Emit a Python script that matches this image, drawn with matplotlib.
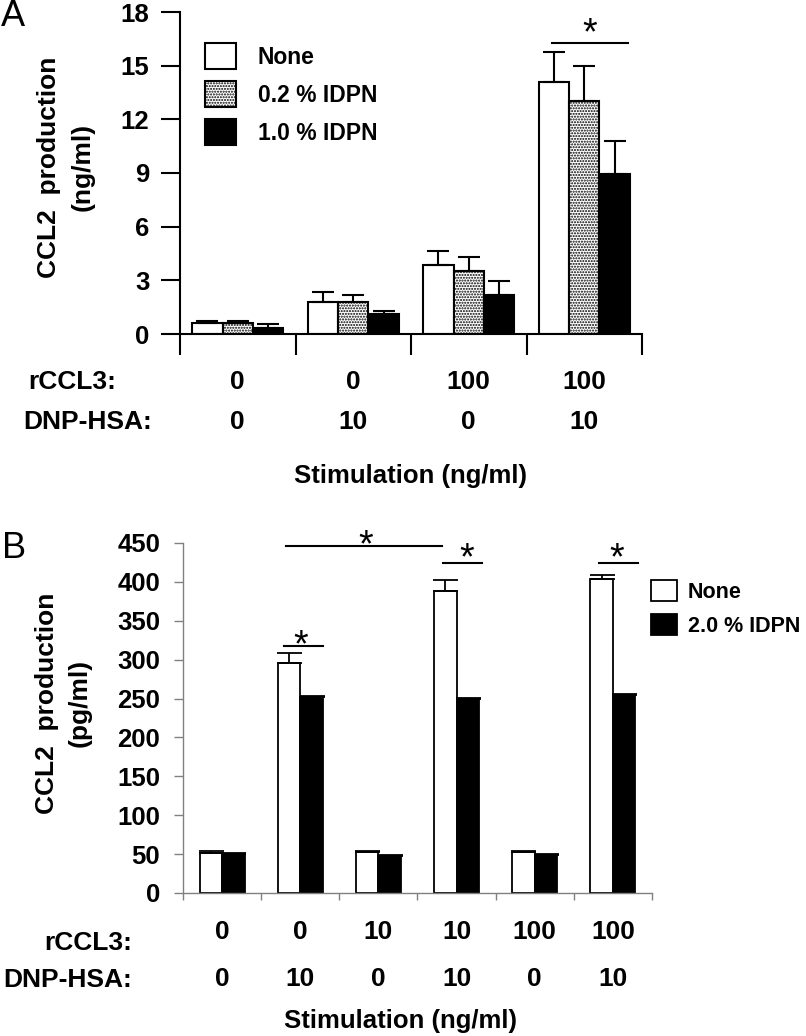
import matplotlib
matplotlib.use('Agg')
import matplotlib.pyplot as plt
from matplotlib.transforms import blended_transform_factory
import numpy as np

plt.rcParams['font.family'] = ['Liberation Sans', 'DejaVu Sans']
plt.rcParams['font.weight'] = 'bold'
plt.rcParams['hatch.linewidth'] = 1.0

# ---------------- Panel A data ----------------
a_rccl3 = ['0', '0', '100', '100']
a_dnp = ['0', '10', '0', '10']
a_labels = ['None', '0.2 % IDPN', '1.0 % IDPN']
a_none = [0.6, 1.8, 3.86, 14.1]
a_none_err = [0.15, 0.55, 0.8, 1.65]
a_low = [0.6, 1.8, 3.5, 13.0]
a_low_err = [0.15, 0.4, 0.8, 2.0]
a_high = [0.35, 1.1, 2.2, 8.95]
a_high_err = [0.2, 0.2, 0.75, 1.85]
a_yticks = [0, 3, 6, 9, 12, 15, 18]
a_sig_x = [2.72, 3.38]
a_sig_y = 16.27
a_star = (3.05, 16.77)

# ---------------- Panel B data ----------------
b_rccl3 = ['0', '0', '10', '10', '100', '100']
b_dnp = ['0', '10', '0', '10', '0', '10']
b_labels = ['None', '2.0 % IDPN']
b_none = [52, 296, 53, 388, 53, 404]
b_none_err = [1.5, 13, 1.5, 15, 1.5, 5]
b_idpn = [50, 252, 48, 249, 49, 254]
b_idpn_err = [1.0, 1.5, 1.0, 1.5, 1.0, 1.5]
b_yticks = [0, 50, 100, 150, 200, 250, 300, 350, 400, 450]
b_sig_lines = [([0.818, 2.813], 446), ([0.79, 1.29], 317.5), ([2.83, 3.32], 424), ([4.82, 5.32], 424)]
b_sig_stars = [(1.84, 446), (1.01, 317), (3.13, 429.4), (5.05, 429.4)]

W, H = 806, 1036
def fx(px):
    return px / W
def fy(py):
    return 1 - py / H

fig = plt.figure(figsize=(W / 100, H / 100), dpi=100)

# ======================= Panel A =======================
axA = fig.add_axes([fx(180), fy(334), (642 - 180) / W, (334 - 12) / H])
x = np.arange(len(a_none))
w = 0.263
ekw = dict(elinewidth=1.5, capthick=1.5, ecolor='black')
z = np.zeros(len(x))
axA.bar(x - w, a_none, w, color='white', edgecolor='black', lw=1.5,
        yerr=[z, a_none_err], capsize=8, error_kw=ekw, label=a_labels[0])
axA.bar(x, a_low, w, color='white', edgecolor='black', lw=1.5, hatch='......',
        yerr=[z, a_low_err], capsize=8, error_kw=ekw, label=a_labels[1])
axA.bar(x + w, a_high, w, color='black', edgecolor='black', lw=1.5,
        yerr=[z, a_high_err], capsize=8, error_kw=ekw, label=a_labels[2])
axA.set_xlim(-0.5, len(x) - 0.5)
axA.set_ylim(0, 18)
axA.set_yticks(a_yticks)
axA.set_xticks(np.arange(-0.5, len(x), 1.0))
axA.set_xticklabels([])
axA.tick_params(axis='x', direction='out', length=15, width=1.5)
axA.tick_params(axis='y', direction='out', length=14, width=1.5, labelsize=18.5, pad=8)
for s in ['top', 'right']:
    axA.spines[s].set_visible(False)
for s in ['left', 'bottom']:
    axA.spines[s].set_linewidth(1.5)

axA.plot(a_sig_x, [a_sig_y, a_sig_y], color='black', lw=1.5, clip_on=False)
axA.text(a_star[0], a_star[1], '*', ha='center', va='center', fontsize=27,
         fontweight='normal', clip_on=False)

axA.legend(loc='upper left', bbox_to_anchor=(fx(205), fy(43)), bbox_transform=fig.transFigure,
           frameon=False, borderpad=0, borderaxespad=0, handlelength=1.35, handleheight=1.4,
           labelspacing=0.5, handletextpad=0.95, fontsize=16.5)

trA = blended_transform_factory(axA.transData, fig.transFigure)
for i in range(len(x)):
    fig.text(x[i], fy(382), a_rccl3[i], transform=trA, ha='center', va='center', fontsize=19)
    fig.text(x[i], fy(422), a_dnp[i], transform=trA, ha='center', va='center', fontsize=19)
fig.text(fx(28), fy(382), 'rCCL3:', ha='left', va='center', fontsize=19)
fig.text(fx(23), fy(422), 'DNP-HSA:', ha='left', va='center', fontsize=19)
fig.text(fx(411), fy(476), 'Stimulation (ng/ml)', ha='center', va='center', fontsize=18.5)
fig.text(fx(49), fy(167), 'CCL2  production', rotation=90, ha='center', va='center', fontsize=19)
fig.text(fx(83), fy(167), '(ng/ml)', rotation=90, ha='center', va='center', fontsize=19)
fig.text(fx(1), fy(17), 'A', ha='left', va='center', fontsize=26, fontweight='normal')

# ======================= Panel B =======================
axB = fig.add_axes([fx(183), fy(893), (652 - 183) / W, (893 - 543) / H])
xb = np.arange(len(b_none))
wb = 0.288
zb = np.zeros(len(xb))
ekwb = dict(elinewidth=1.3, capthick=1.3, ecolor='black')
axB.bar(xb - wb / 2, b_none, wb, color='white', edgecolor='black', lw=1.3,
        yerr=[zb, b_none_err], capsize=9, error_kw=ekwb, label=b_labels[0])
axB.bar(xb + wb / 2, b_idpn, wb, color='black', edgecolor='black', lw=1.3,
        yerr=[zb, b_idpn_err], capsize=9, error_kw=ekwb, label=b_labels[1])
axB.set_xlim(-0.5, len(xb) - 0.5)
axB.set_ylim(0, 450)
axB.set_yticks(b_yticks)
axB.set_xticks(np.arange(-0.5, len(xb), 1.0))
axB.set_xticklabels([])
gray = '#808080'
axB.tick_params(axis='x', direction='out', length=5, width=1, color=gray)
axB.tick_params(axis='y', direction='out', length=6.5, width=1, color=gray, labelsize=18.5, pad=10)
for s in ['top', 'right']:
    axB.spines[s].set_visible(False)
for s in ['left', 'bottom']:
    axB.spines[s].set_linewidth(1)
    axB.spines[s].set_color(gray)

for xs, yv in b_sig_lines:
    axB.plot(xs, [yv, yv], color='black', lw=1.5, clip_on=False)
for xs, yv in b_sig_stars:
    axB.text(xs, yv, '*', ha='center', va='center', fontsize=27, fontweight='normal', clip_on=False)

axB.legend(loc='upper left', bbox_to_anchor=(fx(651), fy(580)), bbox_transform=fig.transFigure,
           frameon=False, borderpad=0, borderaxespad=0, handlelength=1.2, handleheight=1.1,
           labelspacing=0.55, handletextpad=0.5, fontsize=15.5)

trB = blended_transform_factory(axB.transData, fig.transFigure)
for i in range(len(xb)):
    fig.text(xb[i], fy(932), b_rccl3[i], transform=trB, ha='center', va='center', fontsize=19)
    fig.text(xb[i], fy(979), b_dnp[i], transform=trB, ha='center', va='center', fontsize=19)
fig.text(fx(132), fy(943), 'rCCL3:', ha='right', va='center', fontsize=19)
fig.text(fx(132), fy(980), 'DNP-HSA:', ha='right', va='center', fontsize=19)
fig.text(fx(400), fy(1021), 'Stimulation (ng/ml)', ha='center', va='center', fontsize=18.5)
fig.text(fx(47), fy(703), 'CCL2  production', rotation=90, ha='center', va='center', fontsize=19)
fig.text(fx(80), fy(703), '(pg/ml)', rotation=90, ha='center', va='center', fontsize=19)
fig.text(fx(2), fy(549), 'B', ha='left', va='center', fontsize=26, fontweight='normal')

fig.savefig('out.png', dpi=100)
